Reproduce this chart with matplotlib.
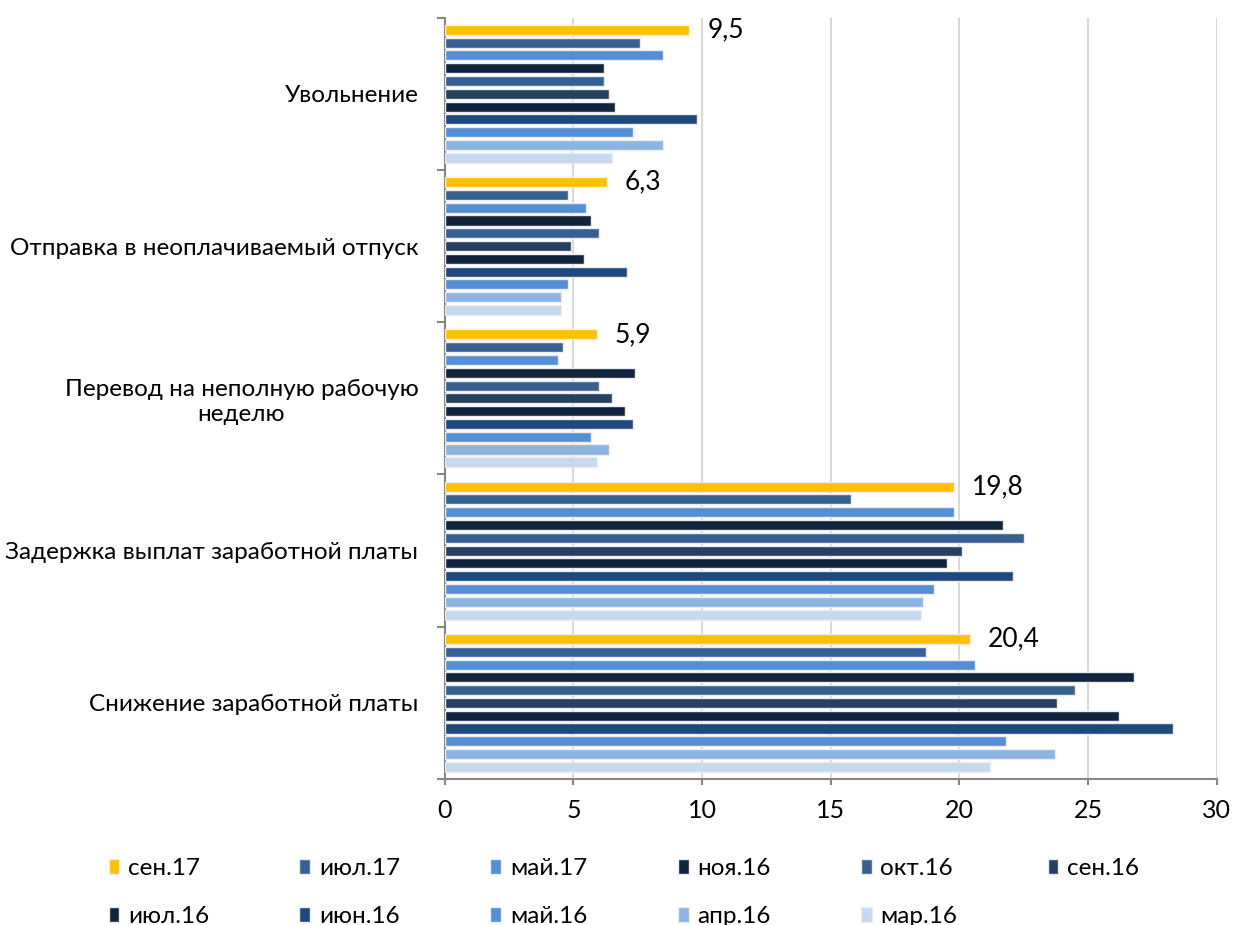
import matplotlib.pyplot as plt
from matplotlib.ticker import FixedLocator

plt.rcParams['font.family'] = ['Lato', 'DejaVu Sans']

categories = [
    'Увольнение',
    'Отправка в неоплачиваемый отпуск',
    'Перевод на неполную рабочую\nнеделю',
    'Задержка выплат заработной платы',
    'Снижение заработной платы',
]

# share of respondents, %, one list per survey wave
sep17 = [9.5, 6.3, 5.9, 19.8, 20.4]
jul17 = [7.6, 4.8, 4.6, 15.8, 18.7]
may17 = [8.5, 5.5, 4.4, 19.8, 20.6]
nov16 = [6.2, 5.7, 7.4, 21.7, 26.8]
oct16 = [6.2, 6.0, 6.0, 22.5, 24.5]
sep16 = [6.4, 4.9, 6.5, 20.1, 23.8]
jul16 = [6.6, 5.4, 7.0, 19.5, 26.2]
jun16 = [9.8, 7.1, 7.3, 22.1, 28.3]
may16 = [7.3, 4.8, 5.7, 19.0, 21.8]
apr16 = [8.5, 4.5, 6.4, 18.6, 23.7]
mar16 = [6.5, 4.5, 5.9, 18.5, 21.2]

labels = ['сен.17', 'июл.17', 'май.17', 'ноя.16', 'окт.16', 'сен.16',
          'июл.16', 'июн.16', 'май.16', 'апр.16', 'мар.16']
values = [sep17, jul17, may17, nov16, oct16, sep16,
          jul16, jun16, may16, apr16, mar16]
colors = ['#FFC000', '#376092', '#558ED5', '#10243E', '#376092', '#254061',
          '#10243E', '#1F497D', '#558ED5', '#8EB4E3', '#C6D9F1']

fig = plt.figure(figsize=(12.33, 9.25), dpi=100)
ax = fig.add_axes([0.3607, 0.1578, 0.9868 - 0.3607, 0.9809 - 0.1578])

n = len(labels)
slot = 0.084
bar_h = 0.066
start = 0.5 - slot * (n - 1) / 2

handles = []
for j, (lab, vals, col) in enumerate(zip(labels, values, colors)):
    ys = [i + start + j * slot for i in range(len(categories))]
    bars = ax.barh(ys, vals, height=bar_h, color=col, edgecolor='#ECECEC',
                   linewidth=1, label=lab, zorder=3)
    handles.append(bars)
    if j == 0:
        for y, v in zip(ys, vals):
            ax.annotate(f'{v:.1f}'.replace('.', ','), (v, y),
                        xytext=(13, 0), textcoords='offset points',
                        va='center', ha='left', fontsize=19)

ax.set_xlim(0, 30)
ax.set_ylim(len(categories), 0)
ax.set_xticks(range(0, 31, 5))
ax.tick_params(axis='x', labelsize=18, length=4.5, width=1.5,
               color='#868686', pad=10)
ax.xaxis.grid(True, color='#D9D9D9', linewidth=1.5, zorder=0)

ax.set_yticks([i + 0.5 for i in range(len(categories))])
ax.set_yticklabels(categories, fontsize=17.5, ha='right', multialignment='center')
ax.yaxis.set_minor_locator(FixedLocator(range(len(categories) + 1)))
ax.tick_params(axis='y', which='major', length=0, pad=19)
ax.tick_params(axis='y', which='minor', length=6, width=1.5, color='#868686')

for side in ('top', 'right'):
    ax.spines[side].set_visible(False)
for side in ('left', 'bottom'):
    ax.spines[side].set_color('#868686')
    ax.spines[side].set_linewidth(1.5)

# legend reads row by row: six entries on the first line, five on the second
order = [0, 6, 1, 7, 2, 8, 3, 9, 4, 10, 5]
fig.legend([handles[k] for k in order], [labels[k] for k in order],
           loc='upper left', bbox_to_anchor=(0.088, 0.0726), ncol=6,
           frameon=False, fontsize=17.5, handlelength=0.45, handleheight=0.6,
           handletextpad=0.35, columnspacing=3.72, labelspacing=1.12,
           borderpad=0, borderaxespad=0)

fig.savefig('out.png', dpi=100)
